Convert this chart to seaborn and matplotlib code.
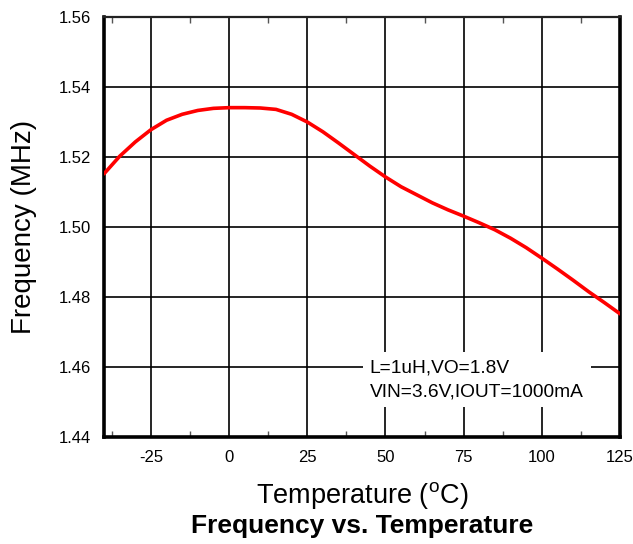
import matplotlib
matplotlib.use("Agg")
import matplotlib.pyplot as plt
import seaborn as sns
import pandas as pd
from matplotlib.ticker import MultipleLocator

temperature = [-40, -35, -30, -25, -20, -15, -10, -5, 0, 5, 10, 15, 20, 25, 30, 35, 40,
               45, 50, 55, 60, 65, 70, 75, 80, 85, 90, 95, 100, 105, 110, 115, 120, 125]
frequency = [1.5152, 1.5202, 1.5243, 1.5278, 1.5305, 1.5322, 1.5333, 1.5339, 1.5341, 1.5341,
             1.5340, 1.5336, 1.5322, 1.5300, 1.5272, 1.5240, 1.5207, 1.5174, 1.5143, 1.5115,
             1.5092, 1.5069, 1.5049, 1.5031, 1.5012, 1.4992, 1.4968, 1.4941, 1.4911, 1.4880,
             1.4848, 1.4815, 1.4784, 1.4752]
x_ticks = [-25, 0, 25, 50, 75, 100, 125]
y_ticks = [1.44, 1.46, 1.48, 1.50, 1.52, 1.54, 1.56]
note_lines = ["L=1uH,VO=1.8V", "VIN=3.6V,IOUT=1000mA"]

sns.set_style("white")
plt.rcParams['font.family'] = ['Liberation Sans', 'DejaVu Sans']
plt.rcParams['mathtext.fontset'] = 'custom'
plt.rcParams['mathtext.rm'] = 'Liberation Sans'
plt.rcParams['text.color'] = 'black'
plt.rcParams['axes.labelcolor'] = 'black'

df = pd.DataFrame({"Temperature": temperature, "Frequency": frequency})

fig, ax = plt.subplots(figsize=(6.33, 5.44), dpi=100)
fig.subplots_adjust(left=104/633, right=620/633, top=1-17/544, bottom=1-437/544)

sns.lineplot(data=df, x="Temperature", y="Frequency", ax=ax, color="#ff0000", lw=2.6, zorder=5)

ax.set_xlim(-40, 125)
ax.set_ylim(1.44, 1.56)
ax.set_xticks(x_ticks)
ax.set_xticklabels([str(v) for v in x_ticks])
ax.set_yticks(y_ticks)
ax.set_yticklabels([f"{v:.2f}" for v in y_ticks])
ax.xaxis.set_minor_locator(MultipleLocator(12.5))
ax.tick_params(axis='x', which='minor', direction='in', length=4, width=1, top=True, bottom=True, color='#555555')
ax.tick_params(axis='both', which='major', length=0, labelsize=12, colors='black', pad=9)
ax.grid(True, which='major', color='black', lw=1.2)

for side in ['left', 'bottom', 'right']:
    ax.spines[side].set_linewidth(2.6)
    ax.spines[side].set_color('black')
ax.spines['top'].set_linewidth(1.6)
ax.spines['top'].set_color('#222222')

ax.set_xlabel("Temperature ($^{\\mathrm{o}}$C)", fontsize=19.5, labelpad=11, color='black')
ax.set_ylabel("Frequency (MHz)", fontsize=20, labelpad=16, color='black')

ax.text(45, 1.4563, "\n".join(note_lines), fontsize=13.8, va='center', ha='left',
        linespacing=1.55, zorder=6, color='black',
        bbox=dict(facecolor='white', edgecolor='none', pad=5))

fig.text(362/633, 1-526/544, "Frequency vs. Temperature", fontsize=19, fontweight='bold',
         ha='center', va='center', color='black')

fig.savefig("out.png", dpi=100)
